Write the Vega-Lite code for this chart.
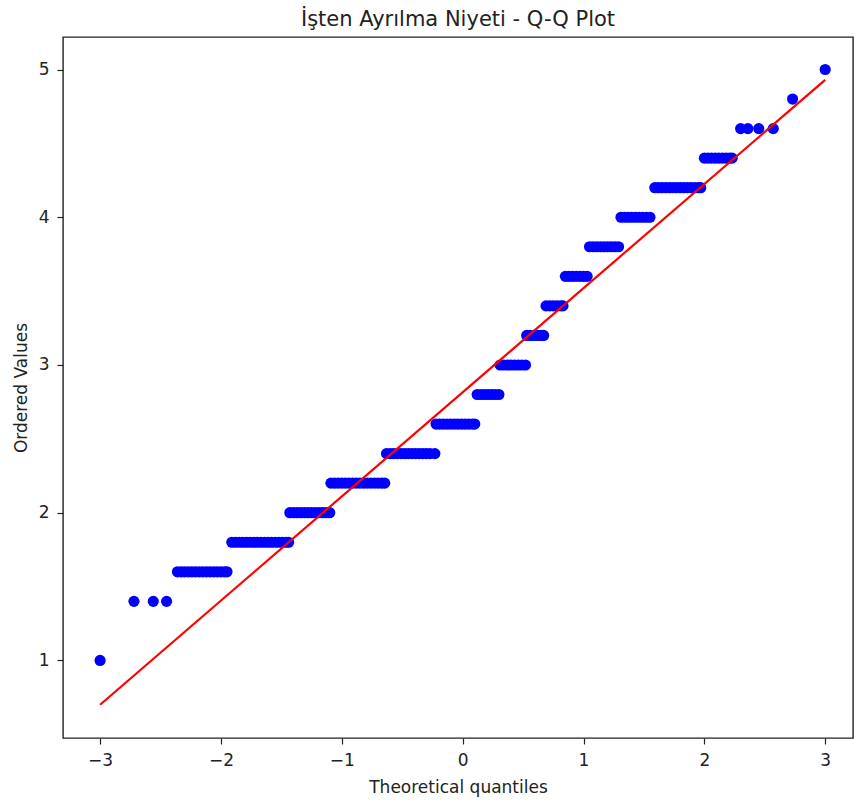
{
  "$schema": "https://vega.github.io/schema/vega-lite/v6.json",
  "width": 790,
  "height": 701,
  "autosize": "none",
  "padding": {"left": 63, "top": 37, "right": 2, "bottom": 66},
  "background": "white",
  "title": {
    "text": "İşten Ayrılma Niyeti - Q-Q Plot",
    "font": "DejaVu Sans",
    "fontSize": 21,
    "fontWeight": "normal",
    "color": "#222222",
    "anchor": "middle",
    "offset": 7
  },
  "config": {
    "view": {"stroke": "#222222", "strokeWidth": 1.4},
    "axis": {
      "grid": false,
      "domain": false,
      "tickColor": "#222222",
      "tickSize": 6,
      "tickWidth": 1.2,
      "labelPadding": 8,
      "labelFont": "DejaVu Sans",
      "labelFontSize": 17,
      "labelColor": "#222222",
      "titleFont": "DejaVu Sans",
      "titleFontSize": 17,
      "titleFontWeight": "normal",
      "titleColor": "#222222"
    }
  },
  "datasets": {
    "pts": [
      {"q": -3.0, "v": 1.0},
      {"q": -2.72, "v": 1.4}, {"q": -2.56, "v": 1.4}, {"q": -2.45, "v": 1.4},
      {"q": -2.36, "v": 1.6}, {"q": -2.33, "v": 1.6}, {"q": -2.30, "v": 1.6}, {"q": -2.27, "v": 1.6}, {"q": -2.24, "v": 1.6}, {"q": -2.21, "v": 1.6}, {"q": -2.18, "v": 1.6}, {"q": -2.15, "v": 1.6}, {"q": -2.12, "v": 1.6}, {"q": -2.09, "v": 1.6}, {"q": -2.06, "v": 1.6}, {"q": -2.03, "v": 1.6}, {"q": -2.00, "v": 1.6}, {"q": -1.97, "v": 1.6}, {"q": -1.95, "v": 1.6},
      {"q": -1.91, "v": 1.8}, {"q": -1.88, "v": 1.8}, {"q": -1.85, "v": 1.8}, {"q": -1.82, "v": 1.8}, {"q": -1.79, "v": 1.8}, {"q": -1.76, "v": 1.8}, {"q": -1.73, "v": 1.8}, {"q": -1.70, "v": 1.8}, {"q": -1.67, "v": 1.8}, {"q": -1.64, "v": 1.8}, {"q": -1.61, "v": 1.8}, {"q": -1.58, "v": 1.8}, {"q": -1.55, "v": 1.8}, {"q": -1.52, "v": 1.8}, {"q": -1.49, "v": 1.8}, {"q": -1.46, "v": 1.8}, {"q": -1.44, "v": 1.8},
      {"q": -1.43, "v": 2.0}, {"q": -1.40, "v": 2.0}, {"q": -1.37, "v": 2.0}, {"q": -1.34, "v": 2.0}, {"q": -1.31, "v": 2.0}, {"q": -1.28, "v": 2.0}, {"q": -1.25, "v": 2.0}, {"q": -1.22, "v": 2.0}, {"q": -1.19, "v": 2.0}, {"q": -1.16, "v": 2.0}, {"q": -1.13, "v": 2.0}, {"q": -1.10, "v": 2.0},
      {"q": -1.09, "v": 2.2}, {"q": -1.06, "v": 2.2}, {"q": -1.03, "v": 2.2}, {"q": -1.00, "v": 2.2}, {"q": -0.97, "v": 2.2}, {"q": -0.94, "v": 2.2}, {"q": -0.91, "v": 2.2}, {"q": -0.88, "v": 2.2}, {"q": -0.85, "v": 2.2}, {"q": -0.82, "v": 2.2}, {"q": -0.79, "v": 2.2}, {"q": -0.76, "v": 2.2}, {"q": -0.73, "v": 2.2}, {"q": -0.70, "v": 2.2}, {"q": -0.67, "v": 2.2}, {"q": -0.645, "v": 2.2},
      {"q": -0.63, "v": 2.4}, {"q": -0.60, "v": 2.4}, {"q": -0.57, "v": 2.4}, {"q": -0.54, "v": 2.4}, {"q": -0.51, "v": 2.4}, {"q": -0.48, "v": 2.4}, {"q": -0.45, "v": 2.4}, {"q": -0.42, "v": 2.4}, {"q": -0.39, "v": 2.4}, {"q": -0.36, "v": 2.4}, {"q": -0.33, "v": 2.4}, {"q": -0.30, "v": 2.4}, {"q": -0.27, "v": 2.4}, {"q": -0.23, "v": 2.4},
      {"q": -0.22, "v": 2.6}, {"q": -0.19, "v": 2.6}, {"q": -0.16, "v": 2.6}, {"q": -0.13, "v": 2.6}, {"q": -0.10, "v": 2.6}, {"q": -0.07, "v": 2.6}, {"q": -0.04, "v": 2.6}, {"q": -0.01, "v": 2.6}, {"q": 0.02, "v": 2.6}, {"q": 0.05, "v": 2.6}, {"q": 0.08, "v": 2.6}, {"q": 0.10, "v": 2.6},
      {"q": 0.12, "v": 2.8}, {"q": 0.15, "v": 2.8}, {"q": 0.18, "v": 2.8}, {"q": 0.21, "v": 2.8}, {"q": 0.24, "v": 2.8}, {"q": 0.27, "v": 2.8}, {"q": 0.30, "v": 2.8},
      {"q": 0.31, "v": 3.0}, {"q": 0.34, "v": 3.0}, {"q": 0.37, "v": 3.0}, {"q": 0.40, "v": 3.0}, {"q": 0.43, "v": 3.0}, {"q": 0.46, "v": 3.0}, {"q": 0.49, "v": 3.0}, {"q": 0.52, "v": 3.0},
      {"q": 0.53, "v": 3.2}, {"q": 0.56, "v": 3.2}, {"q": 0.59, "v": 3.2}, {"q": 0.62, "v": 3.2}, {"q": 0.65, "v": 3.2}, {"q": 0.67, "v": 3.2},
      {"q": 0.69, "v": 3.4}, {"q": 0.72, "v": 3.4}, {"q": 0.75, "v": 3.4}, {"q": 0.78, "v": 3.4}, {"q": 0.81, "v": 3.4}, {"q": 0.83, "v": 3.4},
      {"q": 0.85, "v": 3.6}, {"q": 0.88, "v": 3.6}, {"q": 0.91, "v": 3.6}, {"q": 0.94, "v": 3.6}, {"q": 0.97, "v": 3.6}, {"q": 1.00, "v": 3.6}, {"q": 1.03, "v": 3.6},
      {"q": 1.05, "v": 3.8}, {"q": 1.08, "v": 3.8}, {"q": 1.11, "v": 3.8}, {"q": 1.14, "v": 3.8}, {"q": 1.17, "v": 3.8}, {"q": 1.20, "v": 3.8}, {"q": 1.23, "v": 3.8}, {"q": 1.26, "v": 3.8}, {"q": 1.29, "v": 3.8},
      {"q": 1.31, "v": 4.0}, {"q": 1.34, "v": 4.0}, {"q": 1.37, "v": 4.0}, {"q": 1.40, "v": 4.0}, {"q": 1.43, "v": 4.0}, {"q": 1.46, "v": 4.0}, {"q": 1.49, "v": 4.0}, {"q": 1.52, "v": 4.0}, {"q": 1.55, "v": 4.0},
      {"q": 1.59, "v": 4.2}, {"q": 1.62, "v": 4.2}, {"q": 1.65, "v": 4.2}, {"q": 1.68, "v": 4.2}, {"q": 1.71, "v": 4.2}, {"q": 1.74, "v": 4.2}, {"q": 1.77, "v": 4.2}, {"q": 1.80, "v": 4.2}, {"q": 1.83, "v": 4.2}, {"q": 1.86, "v": 4.2}, {"q": 1.89, "v": 4.2}, {"q": 1.92, "v": 4.2}, {"q": 1.95, "v": 4.2}, {"q": 1.97, "v": 4.2},
      {"q": 2.00, "v": 4.4}, {"q": 2.03, "v": 4.4}, {"q": 2.06, "v": 4.4}, {"q": 2.09, "v": 4.4}, {"q": 2.12, "v": 4.4}, {"q": 2.15, "v": 4.4}, {"q": 2.18, "v": 4.4}, {"q": 2.21, "v": 4.4}, {"q": 2.23, "v": 4.4},
      {"q": 2.30, "v": 4.6}, {"q": 2.36, "v": 4.6}, {"q": 2.45, "v": 4.6}, {"q": 2.57, "v": 4.6},
      {"q": 2.73, "v": 4.8},
      {"q": 3.0, "v": 5.0}
    ],
    "fit": [
      {"q": -3.0, "v": 0.70},
      {"q": 3.0, "v": 4.93}
    ]
  },
  "layer": [
    {
      "data": {"name": "pts"},
      "mark": {"type": "point", "filled": true, "shape": "circle", "size": 125, "color": "#0000ff", "opacity": 1},
      "encoding": {
        "x": {
          "field": "q", "type": "quantitative",
          "scale": {"domain": [-3.307, 3.23], "nice": false, "zero": false},
          "axis": {"values": [-3, -2, -1, 0, 1, 2, 3], "format": "d", "title": "Theoretical quantiles", "titlePadding": 11, "labelExpr": "replace(datum.label, '-', '−')"}
        },
        "y": {
          "field": "v", "type": "quantitative",
          "scale": {"domain": [0.475, 5.22], "nice": false, "zero": false},
          "axis": {"values": [1, 2, 3, 4, 5], "format": "d", "title": "Ordered Values", "labelPadding": 8, "titlePadding": 8}
        }
      }
    },
    {
      "data": {"name": "fit"},
      "mark": {"type": "line", "color": "#ff0000", "strokeWidth": 2.2},
      "encoding": {
        "x": {"field": "q", "type": "quantitative"},
        "y": {"field": "v", "type": "quantitative"}
      }
    }
  ]
}
